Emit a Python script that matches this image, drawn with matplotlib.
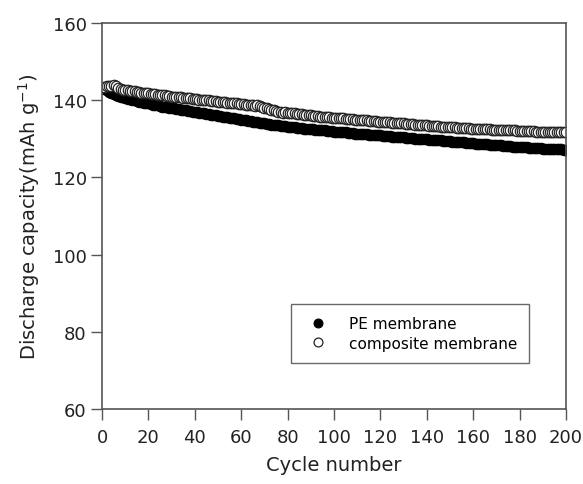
import matplotlib
matplotlib.use('Agg')
import matplotlib.pyplot as plt

# cycle number
cycles = list(range(1, 201))

# discharge capacity (mAh/g), PE membrane
pe_capacity = [
    143.0, 142.6, 142.2, 141.9, 141.7, 141.4, 141.2, 141.0, 140.8, 140.6,
    140.4, 140.3, 140.1, 140.0, 139.8, 139.7, 139.6, 139.4, 139.3, 139.2,
    139.0, 138.9, 138.8, 138.7, 138.5, 138.4, 138.3, 138.2, 138.1, 138.0,
    137.9, 137.8, 137.7, 137.6, 137.5, 137.4, 137.3, 137.2, 137.1, 137.0,
    136.9, 136.8, 136.7, 136.6, 136.5, 136.4, 136.3, 136.2, 136.1, 136.0,
    135.9, 135.8, 135.7, 135.6, 135.5, 135.4, 135.3, 135.2, 135.1, 135.0,
    134.9, 134.8, 134.7, 134.6, 134.5, 134.4, 134.3, 134.2, 134.1, 134.0,
    133.9, 133.8, 133.7, 133.7, 133.6, 133.5, 133.4, 133.4, 133.3, 133.2,
    133.1, 133.1, 133.0, 132.9, 132.9, 132.8, 132.7, 132.7, 132.6, 132.5,
    132.5, 132.4, 132.4, 132.3, 132.2, 132.2, 132.1, 132.1, 132.0, 131.9,
    131.9, 131.8, 131.8, 131.7, 131.7, 131.6, 131.6, 131.5, 131.4, 131.4,
    131.3, 131.3, 131.2, 131.2, 131.1, 131.1, 131.0, 131.0, 130.9, 130.9,
    130.8, 130.8, 130.7, 130.7, 130.6, 130.6, 130.5, 130.5, 130.4, 130.4,
    130.3, 130.3, 130.2, 130.2, 130.1, 130.1, 130.0, 130.0, 129.9, 129.9,
    129.8, 129.8, 129.7, 129.7, 129.6, 129.6, 129.5, 129.5, 129.4, 129.4,
    129.3, 129.3, 129.2, 129.2, 129.1, 129.1, 129.0, 129.0, 128.9, 128.9,
    128.8, 128.8, 128.7, 128.7, 128.6, 128.6, 128.5, 128.5, 128.4, 128.4,
    128.3, 128.3, 128.2, 128.2, 128.1, 128.1, 128.0, 128.0, 127.9, 127.9,
    127.8, 127.8, 127.8, 127.7, 127.7, 127.7, 127.6, 127.6, 127.6, 127.5,
    127.5, 127.5, 127.4, 127.4, 127.4, 127.3, 127.3, 127.3, 127.2, 127.2,
]

# discharge capacity (mAh/g), composite membrane
composite_capacity = [
    143.5, 143.6, 143.7, 143.8, 143.9, 143.6, 143.2, 142.9, 142.8, 142.7,
    142.6, 142.5, 142.4, 142.3, 142.2, 142.1, 142.0, 141.9, 141.9, 141.8,
    141.7, 141.6, 141.6, 141.5, 141.4, 141.3, 141.3, 141.2, 141.1, 141.0,
    141.0, 140.9, 140.8, 140.8, 140.7, 140.6, 140.6, 140.5, 140.4, 140.4,
    140.3, 140.2, 140.2, 140.1, 140.0, 140.0, 139.9, 139.8, 139.8, 139.7,
    139.6, 139.6, 139.5, 139.4, 139.4, 139.3, 139.2, 139.2, 139.1, 139.0,
    139.0, 138.9, 138.8, 138.8, 138.7, 138.6, 138.7, 138.6, 138.4, 138.1,
    137.9, 137.7, 137.5, 137.4, 137.2, 137.1, 137.0, 136.6, 136.9, 136.8,
    136.7, 136.6, 136.6, 136.5, 136.4, 136.4, 136.3, 136.2, 136.2, 136.1,
    136.0, 136.0, 135.9, 135.8, 135.8, 135.7, 135.6, 135.6, 135.5, 135.5,
    135.4, 135.4, 135.3, 135.3, 135.2, 135.2, 135.1, 135.1, 135.0, 135.0,
    134.9, 134.9, 134.8, 134.8, 134.7, 134.7, 134.6, 134.6, 134.5, 134.5,
    134.4, 134.4, 134.3, 134.3, 134.2, 134.2, 134.1, 134.1, 134.0, 134.0,
    133.9, 133.9, 133.8, 133.8, 133.7, 133.7, 133.6, 133.6, 133.5, 133.5,
    133.4, 133.4, 133.3, 133.3, 133.3, 133.2, 133.2, 133.1, 133.1, 133.1,
    133.0, 133.0, 132.9, 132.9, 132.9, 132.8, 132.8, 132.8, 132.7, 132.7,
    132.7, 132.6, 132.6, 132.6, 132.5, 132.5, 132.5, 132.4, 132.4, 132.4,
    132.3, 132.3, 132.3, 132.3, 132.2, 132.2, 132.2, 132.2, 132.1, 132.1,
    132.1, 132.1, 132.0, 132.0, 132.0, 132.0, 131.9, 131.9, 131.9, 131.9,
    131.9, 131.8, 131.8, 131.8, 131.8, 131.8, 131.7, 131.7, 131.7, 131.7,
]

x_ticks = [0, 20, 40, 60, 80, 100, 120, 140, 160, 180, 200]
y_ticks = [60, 80, 100, 120, 140, 160]

plt.rcParams['font.family'] = ['DejaVu Sans']

fig = plt.figure(figsize=(5.83, 4.85), dpi=100)
ax = fig.add_axes([0.175, 0.155, 0.796, 0.795])

ax.plot(cycles, pe_capacity, 'o', color='black', markersize=7.5,
        markeredgecolor='black', markeredgewidth=0.8, label='PE membrane')
ax.plot(cycles, composite_capacity, 'o', markerfacecolor='white', markersize=7.5,
        markeredgecolor='#222222', markeredgewidth=0.9, label='composite membrane')

ax.set_xlim(0, 200)
ax.set_ylim(60, 160)
ax.set_xticks(x_ticks)
ax.set_yticks(y_ticks)
ax.tick_params(direction='out', length=8, width=1, color='#555555',
               labelsize=13, labelcolor='#222222')
ax.tick_params(axis='y', pad=3)
ax.tick_params(axis='x', pad=6)
for s in ax.spines.values():
    s.set_color('#555555')
    s.set_linewidth(1.2)

ax.set_xlabel('Cycle number', fontsize=14, color='#222222', labelpad=6)
ax.set_ylabel(r'Discharge capacity(mAh g$^{\mathregular{-1}}$)', fontsize=14,
              color='#222222', labelpad=8)

leg = ax.legend(loc='upper left', bbox_to_anchor=(0.39, 0.292), frameon=True,
                fancybox=False, fontsize=11, handletextpad=1.0,
                borderpad=0.8, labelspacing=0.3, markerscale=0.85)
leg.get_frame().set_edgecolor('#444444')
leg.get_frame().set_linewidth(1.0)

fig.savefig('out.png', dpi=100)
plt.close(fig)
